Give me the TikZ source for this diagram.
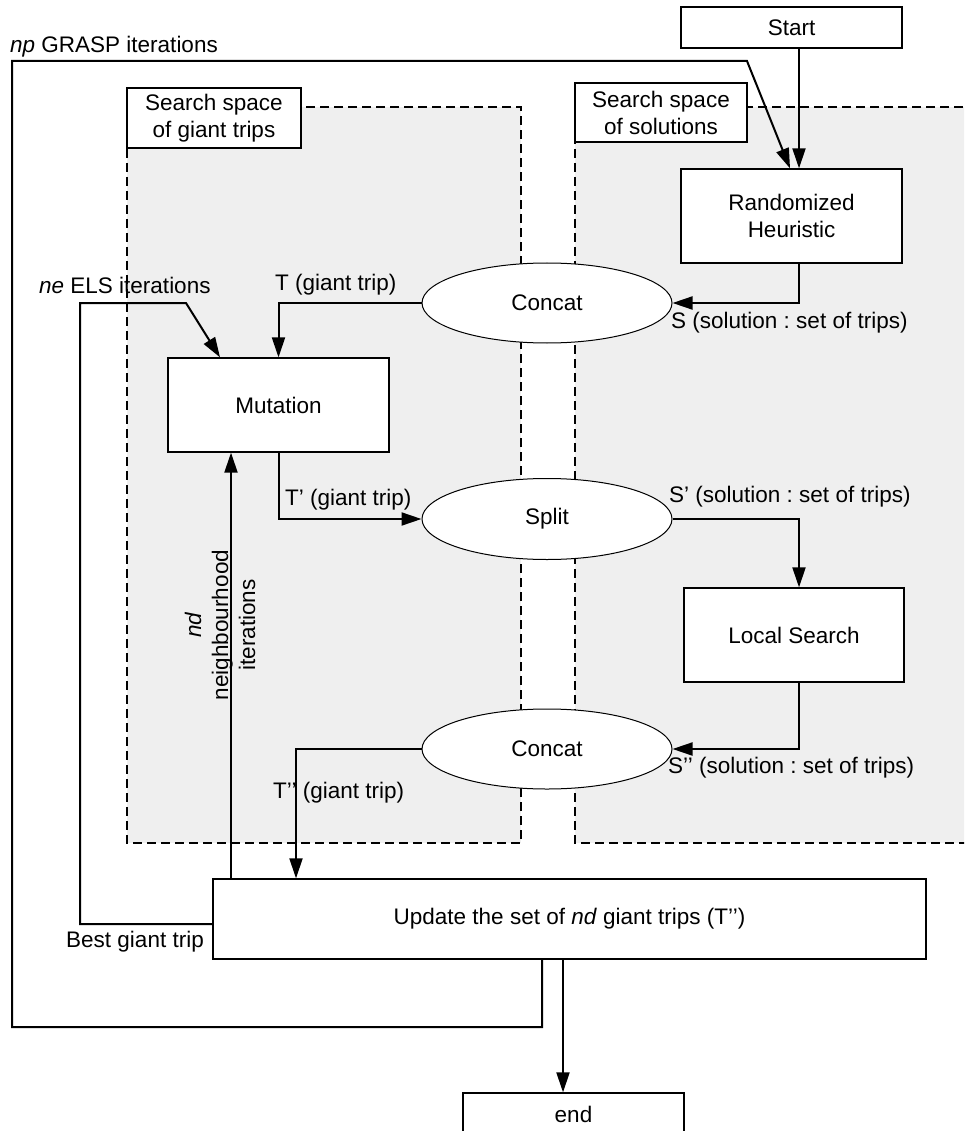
\documentclass[tikz,border=0pt]{standalone}
\usepackage{fontspec}
\setmainfont{Liberation Sans}
\usetikzlibrary{arrows.meta,shapes.geometric}
\definecolor{regfill}{RGB}{239,239,239}
\frenchspacing
\tikzset{
  every node/.style={font=\fontsize{22.5}{27}\selectfont\frenchspacing},
  box/.style={draw, line width=1.3pt, fill=white, rectangle, inner sep=0pt, align=center},
  oval/.style={draw, line width=1pt, fill=white, ellipse, inner sep=0pt},
  lbl/.style={inner sep=0pt},
  conn/.style={line width=2pt, -{Triangle[length=20pt,width=13pt]}},
  region/.style={draw, line width=1.3pt, dash pattern=on 9pt off 5pt, fill=regfill}
}
\begin{document}
\begin{tikzpicture}[x=1pt,y=-1pt]
\useasboundingbox (0,0) rectangle (964,1131);
\clip (0,0) rectangle (964,1131);
% search space regions
\path[region] (127,107) rectangle (521,843);
\path[region] (575,107) rectangle (985,843);
\node[box, minimum width=174pt, minimum height=60pt] (lbl1) at (214,118) {Search space\\of giant trips};
\node[box, minimum width=172pt, minimum height=59pt] (lbl2) at (661,112.5) {Search space\\of solutions};
% process nodes
\node[box, minimum width=221pt, minimum height=41pt] (start) at (791.5,27.5) {Start};
\node[box, minimum width=221pt, minimum height=94pt] (rand) at (791.5,216) {Randomized\\Heuristic};
\node[box, minimum width=221pt, minimum height=94pt] (mut) at (278.5,405) {Mutation};
\node[box, minimum width=220pt, minimum height=94pt] (ls) at (794,635) {Local Search};
\node[box, minimum width=713pt, minimum height=80pt] (upd) at (569.5,919) {Update the set of \textit{nd} giant trips (T’’)};
\node[box, minimum width=221pt, minimum height=42pt] (endn) at (573.5,1114) {end};
\node[oval, minimum width=250pt, minimum height=80pt] (concat1) at (547,303) {Concat};
\node[oval, minimum width=250pt, minimum height=81pt] (split) at (547,519) {Split};
\node[oval, minimum width=250pt, minimum height=80pt] (concat2) at (547,749) {Concat};
% helper coordinates
\coordinate (xA) at (799,0);
\coordinate (xG) at (790,0);
\coordinate (loopBR) at (542,1027);
\coordinate (loopBL) at (12,1027);
\coordinate (loopTL) at (12,61);
\coordinate (loopTR) at (747,61);
\coordinate (elsB) at (80,924);
\coordinate (elsT) at (80,303);
\coordinate (elsD) at (186,303);
\coordinate (xE) at (220,0);
\coordinate (xN) at (231,0);
\coordinate (xT) at (296,0);
\coordinate (xEnd) at (563,0);
% connectors
\draw[conn] (start.south -| xA) -- (rand.north -| xA);
\draw[conn] (upd.south -| loopBR) -- (loopBR) -- (loopBL) -- (loopTL) -- (loopTR) -- (rand.north -| xG);
\draw[conn] (rand.south -| xA) |- (concat1.east);
\draw[conn] (concat1.west) -| (mut.north);
\draw[conn] (upd.west |- elsB) -- (elsB) -- (elsT) -- (elsD) -- (mut.north -| xE);
\draw[conn] (upd.north -| xN) -- (mut.south -| xN);
\draw[conn] (mut.south) |- (split.west);
\draw[conn] (split.east) -| (ls.north -| xA);
\draw[conn] (ls.south -| xA) |- (concat2.east);
\draw[conn] (concat2.west) -| (upd.north -| xT);
\draw[conn] (upd.south -| xEnd) -- (endn.north -| xEnd);
% labels
\node[lbl, anchor=west] (lnp) at (10,47) {\textit{np} GRASP iterations};
\node[lbl, anchor=west] (lne) at (39,285) {\textit{ne} ELS iterations};
\node[lbl, anchor=west] (lT) at (275,285) {T (giant trip)};
\node[lbl, anchor=west] (lS) at (671,323) {S (solution : set of trips)};
\node[lbl, anchor=west] (lT1) at (285,500) {T’ (giant trip)};
\node[lbl, anchor=west] (lS1) at (669,497) {S’ (solution : set of trips)};
\node[lbl, anchor=west] (lS2) at (668,768) {S’’ (solution : set of trips)};
\node[lbl, anchor=west] (lT2) at (273,793) {T’’ (giant trip)};
\node[lbl, anchor=east] (lbest) at (204,942) {Best giant trip};
\node[lbl, rotate=90, align=center] (lnd) at (220,625) {\textit{nd}\\neighbourhood\\iterations};
\end{tikzpicture}
\end{document}
